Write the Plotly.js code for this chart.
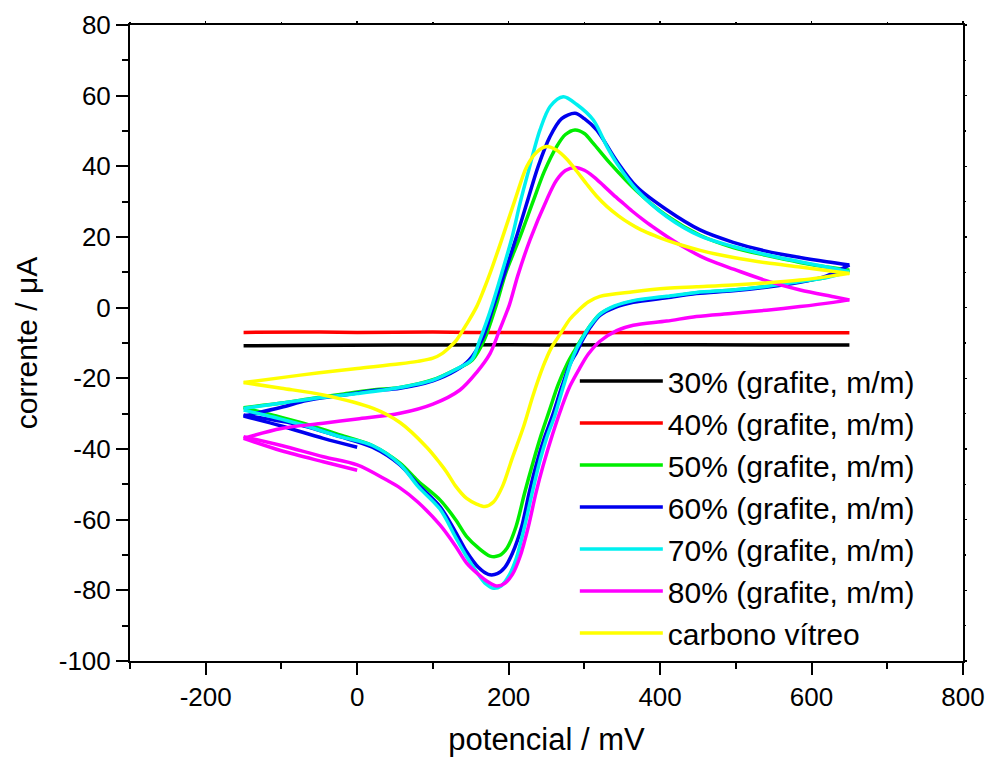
<!DOCTYPE html>
<html>
<head>
<meta charset="utf-8">
<script src="https://cdn.plot.ly/plotly-3.0.1.min.js"></script>
<style>
  html, body { margin: 0; padding: 0; background: #ffffff; }
  #chart { width: 987px; height: 757px; }
</style>
</head>
<body>
<div id="chart"></div>
<script>
// Cyclic voltammograms: potential (mV) vs current (µA), one scan per electrode.
// Each scan is stored sweep by sweep (start, anodic "up", cathodic "down").

const names = [
  "30% (grafite, m/m)",
  "40% (grafite, m/m)",
  "50% (grafite, m/m)",
  "60% (grafite, m/m)",
  "70% (grafite, m/m)",
  "80% (grafite, m/m)",
  "carbono vítreo"
];
const colors = ["#000000", "#ff0000", "#00ee00", "#0000ee", "#00f0f0", "#ff00ff", "#ffff00"];

// 30 % graphite
const e30 = [-150, -100, -50, 0, 50, 100, 150, 200, 250, 300, 350, 400, 450, 500, 550, 600, 650];
const i30 = [-10.8, -10.7, -10.7, -10.6, -10.6, -10.6, -10.5, -10.5, -10.6, -10.5, -10.5, -10.5, -10.5, -10.5, -10.5, -10.6, -10.6];

// 40 % graphite
const e40 = [-150, -100, -50, 0, 50, 100, 150, 200, 250, 300, 350, 400, 450, 500, 550, 600, 650];
const i40 = [-7.0, -6.9, -6.9, -7.0, -6.9, -6.9, -7.0, -7.0, -6.9, -7.0, -6.9, -7.0, -7.0, -6.9, -7.0, -7.0, -7.1];

// 50 % graphite
const e50up = [-150, -100, -66.7, -20, 20, 56.5, 100, 130, 152, 168, 183, 196, 215, 233, 247, 263.4, 275, 287.6, 300, 311.8, 333.8, 369.1, 408.7, 452.7, 496.6, 540, 584.7, 620, 650];
const i50up = [-28.3, -27, -25.9, -24.5, -23.3, -22.6, -20.4, -17.5, -14.8, -9, 0.3, 9.7, 20, 30.5, 38.5, 45.6, 49, 50.3, 49.3, 46.5, 40.9, 33, 26, 20.5, 17, 14.8, 12.8, 11.5, 10.6];
const e50down = [650, 620, 584.7, 540, 496.6, 448, 408.7, 364.6, 340, 320.6, 308, 298, 288, 277, 265, 254, 243, 232.6, 221, 209.7, 198, 187, 175.4, 160, 144.6, 130, 109.3, 80, 56.5, 20, -22.7, -75, -110, -150];
const i50down = [10.6, 8.6, 7.4, 6, 5, 4.2, 3, 1.8, 0.3, -1.8, -5, -8.2, -11.8, -16, -22, -29, -36, -43.5, -52.5, -62, -68, -70.2, -70.3, -68, -64.8, -60, -54.4, -49, -44, -39, -36, -32.5, -30.5, -28.3];

// 60 % graphite
const e60start = [0, -44.8, -100, -150];
const i60start = [-39.5, -37, -33.5, -30.7];
const e60up = [-150, -100, -66.7, -20, 20, 56.5, 100, 130, 148, 165, 179.8, 195, 211, 226, 239, 254.6, 270, 287.6, 300, 316.2, 342.7, 369.1, 408.7, 452.7, 496.6, 540, 584.7, 620, 650];
const i60up = [-30.7, -28.2, -26.3, -24.8, -23.5, -22.8, -20.7, -17.8, -14.8, -9, 0.3, 10, 20.5, 31, 40, 48.4, 53.5, 55, 53.5, 50.3, 41.5, 34.2, 27.7, 22, 18.5, 16, 14.2, 13, 12.1];
const e60down = [650, 620, 584.7, 540, 496.6, 448, 408.7, 364.6, 340, 320.6, 308, 298.6, 290, 281, 270, 258, 247, 237, 227, 217.2, 205, 195, 185, 173.2, 160, 144.6, 130, 109.3, 80, 56.5, 20, -22.7, -75, -110, -150];
const i60down = [12.1, 9, 7.2, 5.8, 4.8, 4, 2.8, 1.5, 0, -2.2, -5.5, -8.8, -12.5, -16, -22.5, -30.5, -37, -44, -52.5, -62, -69.5, -73.5, -75.3, -75.5, -73.5, -69.1, -63.5, -56.3, -50, -44.5, -39.5, -36.5, -33.2, -31.8, -30.4];

// 70 % graphite
const e70up = [-150, -100, -50, 0, 56.5, 100, 130, 151, 162, 170, 177.6, 190.8, 204, 215, 226, 241.4, 255, 272.2, 290, 311.8, 330, 342.7, 369.1, 408.7, 452.7, 496.6, 540, 584.7, 620, 650];
const i70up = [-28.5, -27, -25.5, -24.3, -22.6, -20.5, -17.5, -14.8, -9.1, -4.5, 0.3, 9.7, 19.5, 29.5, 38.5, 50.3, 57, 59.7, 57.5, 53.1, 45.5, 40.9, 33.3, 25.8, 20.3, 17.3, 15, 13, 11.5, 10.2];
const e70down = [650, 620, 584.7, 540, 496.6, 448, 408.7, 364.6, 340, 320.6, 308, 298.6, 290, 282, 272, 261, 250, 240.5, 231, 221, 210, 200, 190, 179.7, 170, 160, 144.6, 130, 109.3, 80, 56.5, 20, -22.7, -75, -110, -150];
const i70down = [10.2, 8.5, 7.4, 6, 5, 4.3, 3.2, 2, 0.5, -1.8, -5, -8.2, -11.5, -15.7, -22.5, -30.5, -37, -44, -52.5, -62, -71, -76, -78.8, -79.4, -78.2, -75.5, -70.5, -65, -57, -50.5, -44.3, -39, -36.5, -33, -31, -29];

// 80 % graphite
const e80start = [0, -44.8, -100, -150];
const i80start = [-46, -43.6, -40.5, -37];
const e80up = [-150, -100, -44.8, 0, 56.5, 100, 135.7, 157.8, 175.4, 188.6, 201, 212, 228.2, 250.2, 263.4, 275, 287.6, 300, 312, 325, 338, 352, 365, 380, 395, 410, 430, 453, 475, 497, 541, 585, 629, 650];
const i80up = [-37, -34.2, -32.7, -31.5, -29.9, -27.3, -23.3, -18.3, -13, -6, 0.8, 9, 19.2, 30.5, 36.1, 38.8, 39.7, 38.9, 37.1, 34.6, 32, 29.4, 27, 24.5, 22.2, 20, 17.3, 14.6, 12.6, 10.9, 7.6, 5.0, 3.1, 2.2];
const e80down = [650, 628.7, 584.7, 540.7, 496.6, 448, 408.7, 364.6, 342.7, 320.6, 305, 294.2, 281, 270, 258, 245.8, 236, 226, 215, 205, 195, 184.2, 172, 160, 144.6, 130, 109.3, 80, 56.5, 39, 0, -44.8, -100, -150];
const i80down = [2.2, 1.5, 0.3, -0.7, -1.6, -2.5, -3.8, -5, -6.5, -9.5, -13.2, -17, -22.2, -28.2, -35.8, -44.5, -52.5, -62, -70.5, -75.5, -78, -78.8, -77.5, -75.5, -72.3, -67.5, -61.5, -55, -51, -48.8, -44.5, -42.2, -39, -36.5];

// glassy carbon
const eGCup = [-150, -100, -50, 0, 56.5, 80, 100, 112, 122, 131.4, 145, 157.8, 167, 175.4, 190.8, 208.4, 223.8, 237, 250.2, 263, 277, 290, 303, 316, 330, 345, 360, 375, 395, 410, 430, 453, 475, 497, 540, 585, 620, 650];
const iGCup = [-21.2, -19.8, -18.4, -17.2, -15.9, -15.2, -14.3, -13, -11.2, -9.1, -4.5, 0.3, 5, 9.7, 19.2, 30.5, 39.9, 44, 45.6, 44.6, 42, 38.6, 35, 31.6, 28.6, 26, 23.8, 22, 20.2, 19, 17.6, 16.2, 15.1, 14.2, 12.7, 11.5, 10.5, 9.7];
const eGCdown = [650, 584.7, 496.6, 448, 408.7, 364.6, 320.6, 305, 292, 281, 268, 256, 245.8, 232, 220, 204, 192, 180, 168.8, 157, 144.6, 130, 118, 109.3, 91.8, 56.5, 21.3, -44.8, -100, -150];
const iGCdown = [9.7, 7.8, 6.4, 5.9, 5.5, 4.5, 3.2, 1.6, -0.8, -3.2, -7.5, -11.5, -16.5, -25, -33.5, -43.1, -50.5, -55, -56.3, -55.5, -54, -50.5, -46.5, -44, -39.5, -32.5, -28.5, -24.7, -22.8, -21.2];

// tick values
const xTicks = [-200, 0, 200, 400, 600, 800];
const yTicks = [-100, -80, -60, -40, -20, 0, 20, 40, 60, 80];

// sweeps of each scan, in legend order
const scans = [
  [[e30, i30]],
  [[e40, i40]],
  [[e50up, i50up], [e50down, i50down]],
  [[e60start, i60start], [e60up, i60up], [e60down, i60down]],
  [[e70up, i70up], [e70down, i70down]],
  [[e80start, i80start], [e80up, i80up], [e80down, i80down]],
  [[eGCup, iGCup], [eGCdown, iGCdown]]
];

const traces = [];
scans.forEach(function (sweeps, k) {
  sweeps.forEach(function (s, j) {
    traces.push({
      x: s[0], y: s[1],
      type: "scatter", mode: "lines",
      name: names[k],
      showlegend: j === 0,
      line: { color: colors[k], width: 3.5, shape: k < 2 ? "linear" : "spline", smoothing: 0.9 },
      hoverinfo: "x+y+name"
    });
  });
});

// empty trace that carries the top/right frame axes
traces.push({ x: [], y: [], xaxis: "x2", yaxis: "y2", showlegend: false, hoverinfo: "skip", type: "scatter", mode: "lines" });

const FONT = "Liberation Sans, Arial, Helvetica, sans-serif";

const layout = {
  width: 987, height: 757,
  margin: { l: 130, r: 24, t: 25, b: 96 },
  paper_bgcolor: "#ffffff", plot_bgcolor: "#ffffff",
  font: { family: FONT, color: "#000000", size: 26 },
  showlegend: true,
  legend: {
    x: 0.534, y: 0.481, xanchor: "left", yanchor: "top",
    bgcolor: "rgba(0,0,0,0)", borderwidth: 0,
    font: { family: FONT, size: 30, color: "#000000" },
    itemwidth: 83, traceorder: "normal"
  },
  xaxis: {
    range: [-300, 800], tickvals: xTicks, ticktext: xTicks.map(String),
    ticks: "outside", ticklen: 12, tickwidth: 2, tickcolor: "#000000",
    minor: { dtick: 100, tick0: 0, ticks: "outside", ticklen: 6, tickwidth: 2, tickcolor: "#000000" },
    showline: true, linewidth: 2, linecolor: "#000000", mirror: true,
    showgrid: false, zeroline: false,
    tickfont: { family: FONT, size: 26, color: "#000000" },
    title: { text: "potencial / mV", font: { family: FONT, size: 31, color: "#000000" }, standoff: 17 }
  },
  yaxis: {
    range: [-100, 80], tickvals: yTicks, ticktext: yTicks.map(String),
    ticks: "outside", ticklen: 12, tickwidth: 2, tickcolor: "#000000",
    minor: { dtick: 10, tick0: 0, ticks: "outside", ticklen: 6, tickwidth: 2, tickcolor: "#000000" },
    showline: true, linewidth: 2, linecolor: "#000000", mirror: true,
    showgrid: false, zeroline: false,
    tickfont: { family: FONT, size: 26, color: "#000000" },
    title: { text: "corrente / μA", font: { family: FONT, size: 30, color: "#000000" }, standoff: 12 }
  },
  xaxis2: {
    overlaying: "x", side: "top", anchor: "y2", range: [-300, 800],
    tickvals: xTicks, showticklabels: false,
    ticks: "outside", ticklen: 3, tickwidth: 1.5, tickcolor: "#000000",
    minor: { dtick: 100, tick0: 0, ticks: "outside", ticklen: 2, tickwidth: 1.5, tickcolor: "#000000" },
    showline: false, showgrid: false, zeroline: false
  },
  yaxis2: {
    overlaying: "y", side: "right", anchor: "x2", range: [-100, 80],
    tickvals: yTicks, showticklabels: false,
    ticks: "outside", ticklen: 3, tickwidth: 1.5, tickcolor: "#000000",
    minor: { dtick: 10, tick0: 0, ticks: "outside", ticklen: 2, tickwidth: 1.5, tickcolor: "#000000" },
    showline: false, showgrid: false, zeroline: false
  }
};

Plotly.newPlot("chart", traces, layout, { displayModeBar: false, staticPlot: true });
</script>
</body>
</html>
